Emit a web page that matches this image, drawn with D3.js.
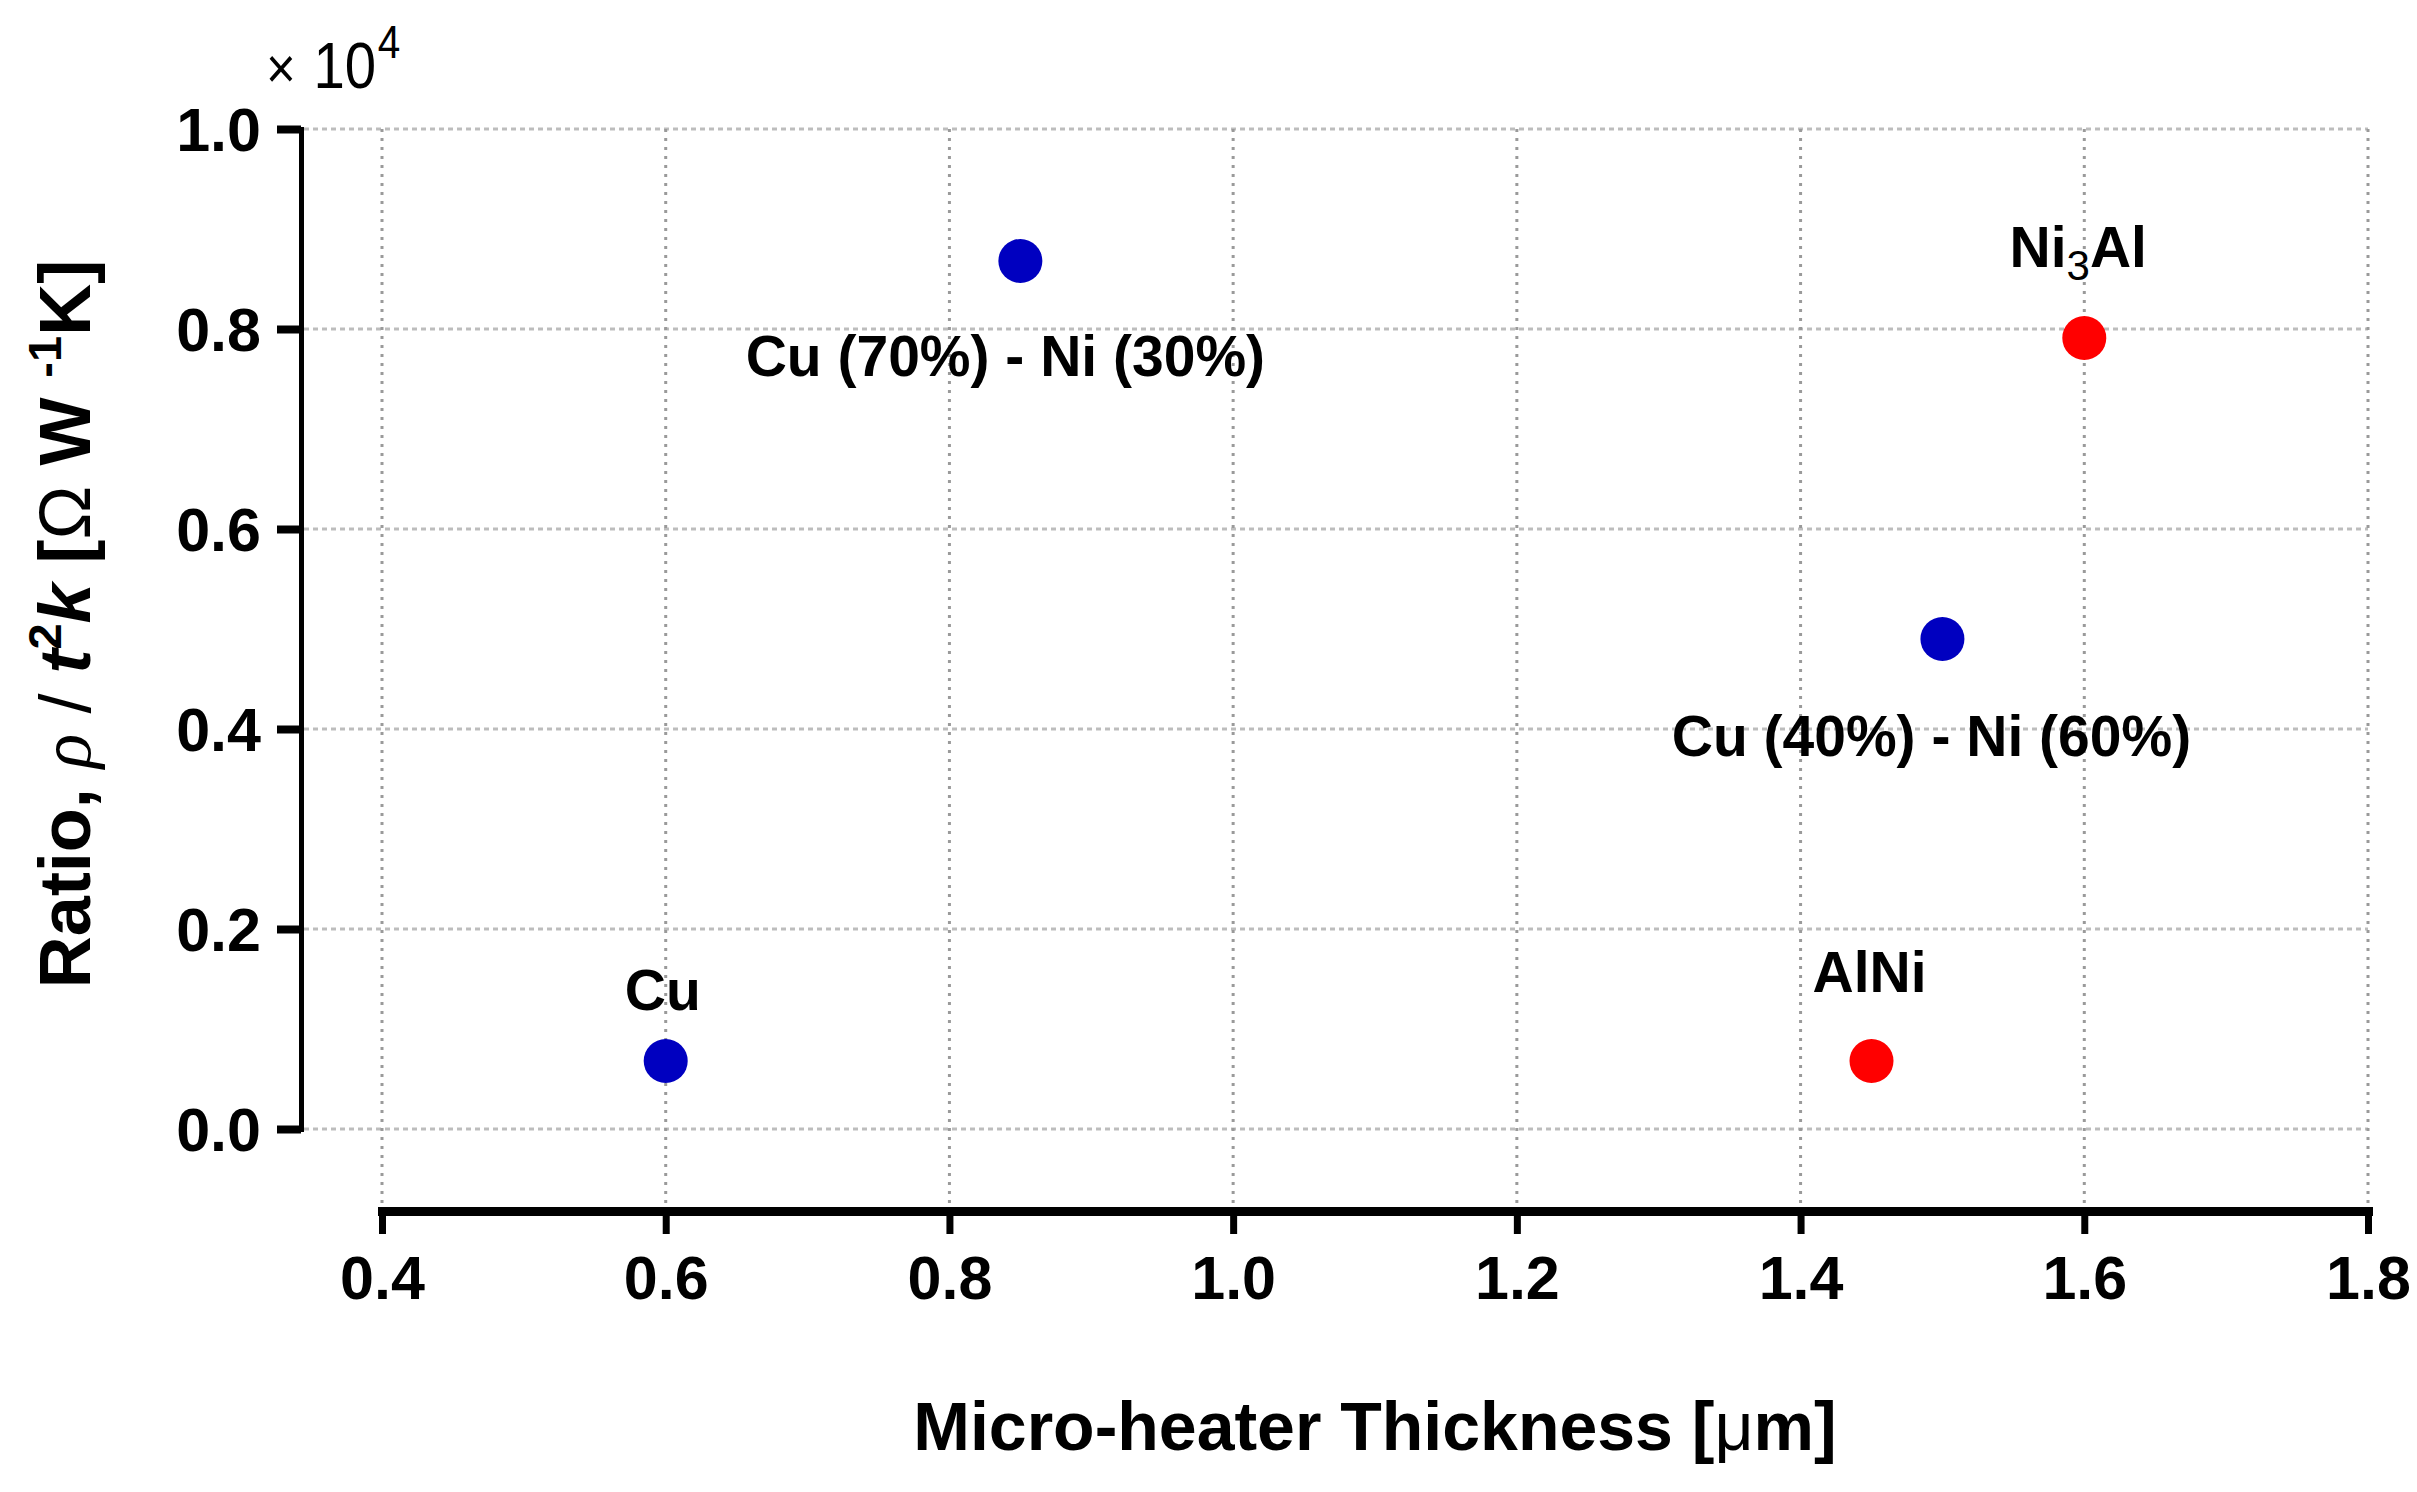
<!DOCTYPE html>
<html lang="en">
<head>
<meta charset="utf-8">
<script src="https://d3js.org/d3.v7.min.js"></script>
<style>
  body { margin: 0; background: #fff; }
  text { font-family: "Liberation Sans", Arial, sans-serif; }
</style>
</head>
<body>
<div id="chart"></div>
<script>

// values (ratio in Ohm W^-1 K, thickness in um)
var materials = ["Cu", "Cu (70%) - Ni (30%)", "Cu (40%) - Ni (60%)", "AlNi", "Ni3Al"];
var thickness = [0.6, 0.85, 1.5, 1.45, 1.6];
var ratio = [680, 8680, 4900, 680, 7910];
var family = ["CuNi", "CuNi", "CuNi", "NiAl", "NiAl"];
var xTicks = [0.4, 0.6, 0.8, 1.0, 1.2, 1.4, 1.6, 1.8];
var yTicks = [0, 2000, 4000, 6000, 8000, 10000];

var data = materials.map(function(m, i) {
  return {name: m, x: thickness[i], y: ratio[i], fam: family[i]};
});

var W = 2417, H = 1492;
var yAxisX = 301, xAxisY = 1211;

var svg = d3.select("#chart")
  .append("svg")
    .attr("width", W)
    .attr("height", H)
    .style("display", "block");

var x = d3.scaleLinear().domain([0.4, 1.8]).range([382, 2368]);
var y = d3.scaleLinear().domain([0, 10000]).range([1129, 129]);

var color = d3.scaleOrdinal().domain(["CuNi", "NiAl"]).range(["#0000c0", "#ff0000"]);

// grid: horizontal from the y spine to the right, vertical down to the x spine
svg.append("g")
  .selectAll("line")
  .data(yTicks)
  .enter().append("line")
    .attr("x1", yAxisX + 3)
    .attr("x2", x(1.8))
    .attr("y1", function(d) { return y(d); })
    .attr("y2", function(d) { return y(d); })
    .style("stroke", "#bdbdbd")
    .style("stroke-width", 3)
    .style("stroke-dasharray", "5,4");

svg.append("g")
  .selectAll("line")
  .data(xTicks)
  .enter().append("line")
    .attr("x1", function(d) { return x(d); })
    .attr("x2", function(d) { return x(d); })
    .attr("y1", y(10000))
    .attr("y2", xAxisY - 4)
    .style("stroke", "#9a9a9a")
    .style("stroke-width", 3)
    .style("stroke-dasharray", "3,6");

// y axis
var gy = svg.append("g")
  .attr("transform", "translate(" + yAxisX + ",0)")
  .call(d3.axisLeft(y).tickValues(yTicks).tickSize(24).tickSizeOuter(0).tickPadding(16)
    .tickFormat(function(d) { return (d / 1e4).toFixed(1); }));
gy.select(".domain").style("stroke", "#000").style("stroke-width", 5).style("stroke-linecap", "square");
gy.selectAll(".tick line").style("stroke", "#000").style("stroke-width", 8);
gy.selectAll(".tick text")
  .style("font-family", "'Liberation Sans', Arial, sans-serif")
  .style("font-size", "61px")
  .style("font-weight", "bold")
  .attr("dy", "0.36em")
  .style("fill", "#000");

// x axis
var gx = svg.append("g")
  .attr("transform", "translate(0," + xAxisY + ")")
  .call(d3.axisBottom(x).tickValues(xTicks).tickSize(23).tickSizeOuter(0).tickPadding(22)
    .tickFormat(d3.format(".1f")));
gx.select(".domain").style("stroke", "#000").style("stroke-width", 9).style("stroke-linecap", "square");
gx.selectAll(".tick line").style("stroke", "#000").style("stroke-width", 7);
gx.selectAll(".tick text")
  .style("font-family", "'Liberation Sans', Arial, sans-serif")
  .style("font-size", "61px")
  .style("font-weight", "bold")
  .style("fill", "#000");

// points
svg.append("g")
  .selectAll("circle")
  .data(data)
  .enter().append("circle")
    .attr("cx", function(d) { return x(d.x); })
    .attr("cy", function(d) { return y(d.y); })
    .attr("r", 22)
    .style("fill", function(d) { return color(d.fam); });

// point labels (offset of the text baseline from the marker)
var labelOffset = {
  "Cu": [-3, -51],
  "Cu (70%) - Ni (30%)": [-15, 115],
  "Cu (40%) - Ni (60%)": [-11, 117],
  "AlNi": [-2, -69],
  "Ni3Al": [-6, -71]
};

var labels = svg.append("g")
  .selectAll("text")
  .data(data)
  .enter().append("text")
    .attr("x", function(d) { return x(d.x) + labelOffset[d.name][0]; })
    .attr("y", function(d) { return y(d.y) + labelOffset[d.name][1]; })
    .attr("text-anchor", "middle")
    .style("font-size", "57px")
    .style("font-weight", "bold")
    .style("fill", "#000");

labels.each(function(d) {
  var t = d3.select(this);
  if (d.name === "Ni3Al") {
    t.append("tspan").text("Ni");
    t.append("tspan").attr("dy", 13).style("font-size", "42px").style("font-weight", "normal").text("3");
    t.append("tspan").attr("dy", -13).text("Al");
  } else {
    t.text(d.name);
  }
});

// exponent marker above the y axis
var ex = svg.append("text")
  .attr("transform", "translate(266,88) scale(0.88,1)")
  .style("fill", "#000");
ex.append("tspan").style("font-size", "58px").text("\u00d7");
ex.append("tspan").style("font-size", "64px").attr("dx", 20).text("10");
ex.append("tspan").style("font-size", "46px").attr("dy", -30).attr("dx", 2).text("4");

// x axis title
svg.append("text")
  .attr("x", (x(0.4) + x(1.8)) / 2)
  .attr("y", 1450)
  .attr("text-anchor", "middle")
  .style("font-size", "68px")
  .style("font-weight", "bold")
  .style("fill", "#000")
  .call(function(t) {
    t.append("tspan").text("Micro-heater Thickness [");
    t.append("tspan").style("font-weight", "normal").text("\u03bc");
    t.append("tspan").text("m]");
  });

// y axis title
var yt = svg.append("text")
  .attr("transform", "translate(90,624) rotate(-90)")
  .attr("text-anchor", "middle")
  .style("font-size", "72px")
  .style("font-weight", "bold")
  .style("fill", "#000");
yt.append("tspan").text("Ratio, ");
yt.append("tspan").style("font-family", "'Liberation Serif', serif").style("font-style", "italic").style("font-weight", "normal").text("\u03c1");
yt.append("tspan").style("font-weight", "normal").text(" / ");
yt.append("tspan").style("font-style", "italic").text("t");
yt.append("tspan").style("font-size", "47px").attr("dy", -29).text("2");
yt.append("tspan").style("font-style", "italic").attr("dy", 29).text("k");
yt.append("tspan").text(" [");
yt.append("tspan").style("font-weight", "normal").text("\u03a9");
yt.append("tspan").text(" W ");
yt.append("tspan").style("font-size", "47px").attr("dy", -29).text("-1");
yt.append("tspan").attr("dy", 29).text("K]");

</script>
</body>
</html>
